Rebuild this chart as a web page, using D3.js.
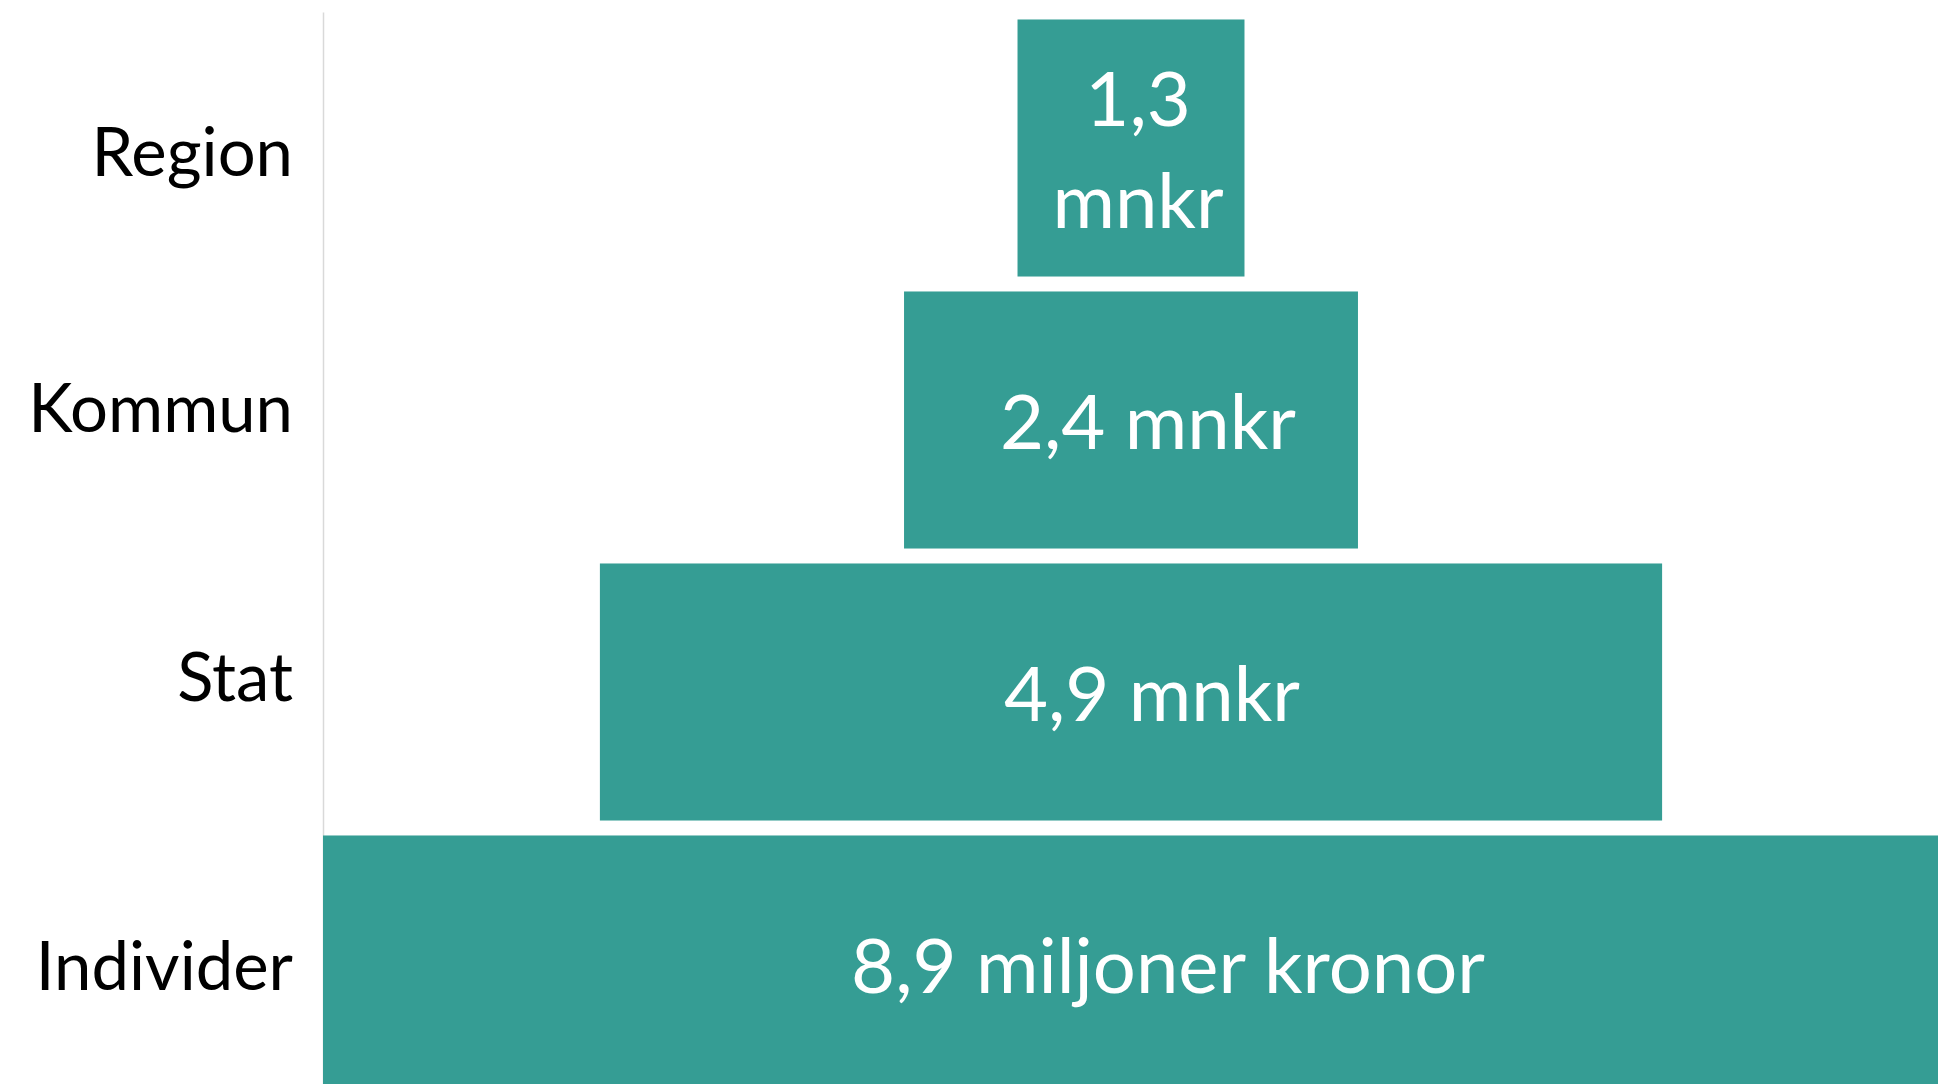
<!DOCTYPE html>
<html>
<head>
<meta charset="utf-8">
<script src="https://cdn.jsdelivr.net/npm/d3@7"></script>
<style>
  html, body { margin: 0; padding: 0; background: #fff; overflow: hidden; }
  svg { display: block; }
  .axis text { font-family: Lato, "Open Sans", sans-serif; fill: #000; }
  .axis path { stroke: #d9d9d9; stroke-width: 1.5; }
  .label { font-family: Lato, "Open Sans", sans-serif; fill: #fff; }
</style>
</head>
<body>
<svg id="chart"></svg>
<script>
// levels, top of the funnel first
var categories = ["Region", "Kommun", "Stat", "Individer"];
// amounts as written on the bars (mnkr)
var amounts = [1.3, 2.4, 4.9, 8.9];
var amountLabels = ["1,3 mnkr", "2,4 mnkr", "4,9 mnkr", "8,9 miljoner kronor"];
// bar lengths as drawn in the picture (same unit, not exactly to the label scale)
var barLengths = [1.25, 2.5, 5.85, 8.9];

var width = 1938, height = 1084;
var margin = {top: 12, left: 323};

// small hand placement of the texts, as in the original slide
var tickNudge = [4, -12, -15, 2];
var labelNudge = [7, 17, 21, 37];

var svg = d3.select("#chart")
    .attr("width", width)
    .attr("height", height);

var maxLen = d3.max(barLengths);

// x runs from the axis line to the right edge of the picture
var x = d3.scaleLinear()
    .domain([0, maxLen])
    .range([margin.left, width + 1]);

// bands go a bit past the bottom, the last bar is cut off
var y = d3.scaleBand()
    .domain(categories)
    .range([margin.top, 1100])
    .paddingInner(0.055)
    .paddingOuter(0.0275);

// category axis on the left
var axis = svg.append("g")
    .attr("class", "axis")
    .attr("transform", "translate(" + margin.left + ",0)")
    .call(d3.axisLeft(y).tickSize(0).tickSizeOuter(0).tickPadding(30));

axis.selectAll("text")
    .style("font-size", "67px")
    .attr("dy", "0.36em")
    .attr("y", function(d, i) { return tickNudge[i]; });

var rows = categories.map(function(c, i) {
    return {name: c, amount: amounts[i], label: amountLabels[i], len: barLengths[i], i: i};
});

// funnel bars: centred, like a stacked bar with an invisible spacer
svg.append("g").selectAll("rect")
    .data(rows)
    .enter().append("rect")
    .attr("x", function(d) { return x((maxLen - d.len) / 2); })
    .attr("y", function(d) { return y(d.name); })
    .attr("width", function(d) { return x((maxLen + d.len) / 2) - x((maxLen - d.len) / 2); })
    .attr("height", y.bandwidth())
    .attr("fill", "#359d94");

// value labels, wrapped when they do not fit in the bar
var fontSize = 76, lineHeight = 102;
var labels = svg.append("g").selectAll("text")
    .data(rows)
    .enter().append("text")
    .attr("class", "label")
    .attr("text-anchor", "middle")
    .style("font-size", fontSize + "px")
    .attr("transform", function(d) {
        var cx = x(maxLen / 2) + labelNudge[d.i];
        return "translate(" + cx + "," + (y(d.name) + y.bandwidth() / 2 + 2) + ")";
    });

labels.each(function(d) {
    var t = d3.select(this);
    var barW = x((maxLen + d.len) / 2) - x((maxLen - d.len) / 2);
    t.text(d.label);
    var lines = [d.label];
    if (this.getComputedTextLength() > barW - 20) {
        lines = d.label.split(" ");
    }
    t.text(null);
    var first = -(lines.length - 1) / 2 * lineHeight;
    lines.forEach(function(line, k) {
        t.append("tspan")
            .attr("x", 0)
            .attr("y", first + k * lineHeight)
            .attr("dy", "0.36em")
            .text(line);
    });
});
</script>
</body>
</html>
